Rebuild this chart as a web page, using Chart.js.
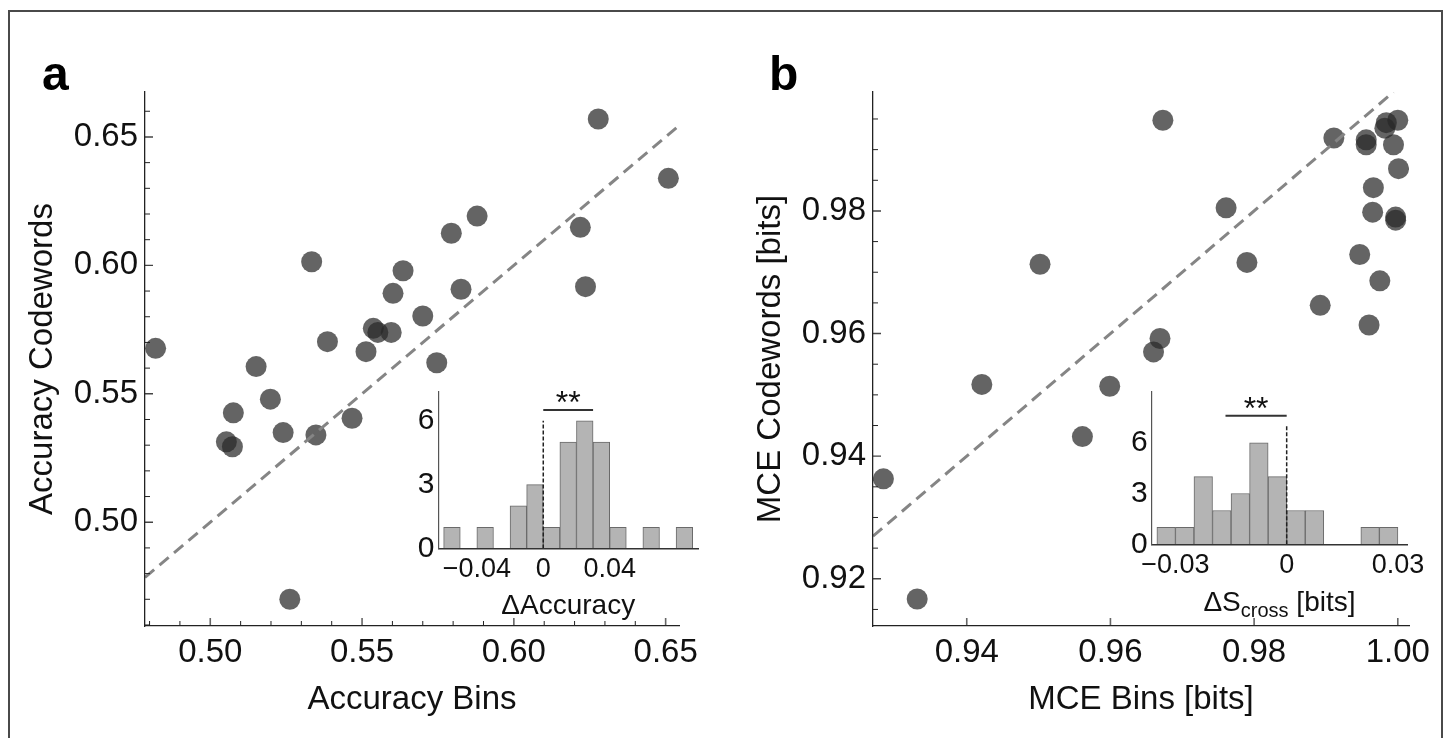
<!DOCTYPE html>
<html>
<head>
<meta charset="utf-8">
<script src="https://cdn.jsdelivr.net/npm/chart.js@4.4.1/dist/chart.umd.min.js"></script>
<style>
  body { margin: 0; background: #fff; }
  #wrap { position: relative; width: 1448px; height: 738px; overflow: hidden; background: #fff; }
  #frame { position: absolute; left: 8px; top: 10px; width: 1431px; height: 760px; border: 2px solid #4a4a4a; }
  canvas { position: absolute; }
</style>
</head>
<body>
<div id="wrap">
  <div id="frame"></div>
  <canvas id="mainA" width="1448" height="738" style="left:0;top:0"></canvas>
  <canvas id="mainB" width="1448" height="738" style="left:0;top:0"></canvas>
  <canvas id="histA" width="330" height="260" style="left:380px;top:370px"></canvas>
  <canvas id="histB" width="340" height="260" style="left:1090px;top:370px"></canvas>
</div>
<script>
// ---- panel a: decoding accuracy, bins vs codewords ----
const accBins = [0.6278, 0.6509, 0.5879, 0.5794, 0.6219, 0.6236, 0.5334, 0.5635, 0.5602,
  0.5826, 0.5700, 0.5537, 0.5552, 0.5596, 0.5386, 0.4820, 0.5513, 0.5746, 0.5151,
  0.5198, 0.5076, 0.5467, 0.5240, 0.5348, 0.5053, 0.5073, 0.5262];
const accCodewords = [0.6570, 0.6339, 0.6192, 0.6125, 0.6148, 0.5917, 0.6014, 0.5979, 0.5891,
  0.5907, 0.5803, 0.5755, 0.5739, 0.5739, 0.5703, 0.5677, 0.5664, 0.5621, 0.5606,
  0.5479, 0.5426, 0.5405, 0.5349, 0.5340, 0.5313, 0.5294, 0.4700];
const accTicks = [0.50, 0.55, 0.60, 0.65];

// histogram of accuracy differences (codewords - bins), lower bin edges
const dAccEdges = [-0.06, -0.05, -0.04, -0.03, -0.02, -0.01, 0, 0.01, 0.02, 0.03, 0.04, 0.05, 0.06, 0.07, 0.08];
const dAccCounts = [1, 0, 1, 0, 2, 3, 1, 5, 6, 5, 1, 0, 1, 0, 1];
const dAccBinWidth = 0.01;
const dAccTicks = [-0.04, 0, 0.04];
const countTicks = [0, 3, 6];

// ---- panel b: minimum cross entropy, bins vs codewords ----
const mceBins = [0.9673, 0.9911, 0.9956, 0.9956, 0.9984, 0.9982, 1.0000, 0.9994, 1.0001,
  0.9966, 0.9761, 0.9965, 0.9997, 0.9997, 0.9502, 0.9790, 0.9947, 0.9975, 0.9892,
  0.9960, 0.9669, 0.9660, 0.9421, 0.9599, 0.9561, 0.9284, 0.9331];
const mceCodewords = [0.9948, 0.9919, 0.9916, 0.9908, 0.9944, 0.9935, 0.9948, 0.9908, 0.9869,
  0.9838, 0.9805, 0.9798, 0.9790, 0.9785, 0.9713, 0.9716, 0.9729, 0.9686, 0.9646,
  0.9614, 0.9592, 0.9570, 0.9517, 0.9514, 0.9432, 0.9363, 0.9167];
const mceXTicks = [0.94, 0.96, 0.98, 1.00];
const mceYTicks = [0.92, 0.94, 0.96, 0.98];

const dSEdges = [-0.035, -0.03, -0.025, -0.02, -0.015, -0.01, -0.005, 0, 0.005, 0.01, 0.015, 0.02, 0.025];
const dSCounts = [1, 1, 4, 2, 3, 6, 4, 2, 2, 0, 0, 1, 1];
const dSBinWidth = 0.005;
const dSTicks = [-0.03, 0, 0.03];

// axis ranges
const axA = { xMin: 0.4785, xMax: 0.6544, yMin: 0.4596, yMax: 0.6675 };
const axB = { xMin: 0.92695, xMax: 1.00156, yMin: 0.9123, yMax: 0.9994 };

const FONT = "'Liberation Sans', Arial, Helvetica, sans-serif";
Chart.defaults.font.family = FONT;
Chart.defaults.color = '#111';
Chart.defaults.animation = false;

function steps(from, to, step) {
  const out = [];
  for (let v = from; v <= to + step / 2; v += step) out.push(Math.round(v * 10000) / 10000);
  return out;
}
const without = (list, skip) => list.filter(v => !skip.some(s => Math.abs(s - v) < 1e-6));

// y = x reference line clipped to the plotted square
function diagonal(ax) {
  const lo = Math.max(ax.xMin, ax.yMin), hi = Math.min(ax.xMax, ax.yMax);
  return [{ x: lo, y: lo }, { x: hi, y: hi }];
}

// inward tick marks (major + minor) and the bold panel letter
const frameTicks = {
  id: 'frameTicks',
  afterDatasetsDraw(chart, args, opts) {
    const { ctx, chartArea: area, scales } = chart;
    ctx.save();
    const mark = (list, len, color, width, horizontal) => {
      ctx.strokeStyle = color;
      ctx.lineWidth = width;
      ctx.beginPath();
      list.forEach(v => {
        if (horizontal) {
          const px = scales.x.getPixelForValue(v);
          ctx.moveTo(px, area.bottom); ctx.lineTo(px, area.bottom - len);
        } else {
          const py = scales.y.getPixelForValue(v);
          ctx.moveTo(area.left, py); ctx.lineTo(area.left + len, py);
        }
      });
      ctx.stroke();
    };
    mark(opts.xMinor, 5, '#222', 1, true);
    mark(opts.xMajor, 8, '#666', 1.6, true);
    mark(opts.yMinor, 5, '#222', 1, false);
    mark(opts.yMajor, 8, '#444', 1.4, false);

    ctx.fillStyle = '#000';
    ctx.font = 'bold 48px ' + FONT;
    ctx.textBaseline = 'alphabetic';
    ctx.fillText(opts.letter, opts.letterX, 90);
    ctx.restore();
  }
};

function mainOptions(ax, xTicks, yTicks, xTitle, yTitle, pad) {
  const tickFont = { size: 33 };
  const fmt = v => v.toFixed(2);
  return {
    responsive: false,
    layout: { padding: pad },
    plugins: { legend: { display: false }, tooltip: { enabled: false } },
    scales: {
      x: {
        type: 'linear', min: ax.xMin, max: ax.xMax,
        afterBuildTicks: s => { s.ticks = xTicks.map(v => ({ value: v })); },
        afterFit: s => { s.height = 100; },
        ticks: { font: tickFont, padding: 7, maxRotation: 0, autoSkip: false, callback: fmt },
        grid: { display: false, drawTicks: false },
        border: { display: true, color: '#222', width: 1.3, z: 1 },
        title: { display: true, text: xTitle, font: { size: 33 }, padding: { top: 0, bottom: 6 } }
      },
      y: {
        type: 'linear', min: ax.yMin, max: ax.yMax,
        afterBuildTicks: s => { s.ticks = yTicks.map(v => ({ value: v })); },
        afterFit: s => { s.width = 130; },
        ticks: { font: tickFont, padding: 7, autoSkip: false, callback: fmt },
        grid: { display: false, drawTicks: false },
        border: { display: true, color: '#222', width: 1.3, z: 1 },
        title: { display: true, text: yTitle, font: { size: 33 }, padding: { top: 8, bottom: 0 } }
      }
    }
  };
}

const pointFill = 'rgba(40,40,40,0.72)';
function scatterData(xs, ys, ax) {
  return {
    datasets: [
      {
        type: 'line', data: diagonal(ax), borderColor: '#858585', borderWidth: 3,
        borderDash: [12, 7], pointRadius: 0, fill: false, order: 0
      },
      {
        data: xs.map((v, i) => ({ x: v, y: ys[i] })), backgroundColor: pointFill,
        borderWidth: 0, pointRadius: 10.5, pointHoverRadius: 10.5, order: 1
      }
    ]
  };
}

// panel a
const optsA = mainOptions(axA, accTicks, accTicks, 'Accuracy Bins', 'Accuracy Codewords',
  { left: 15, right: 769, top: 92, bottom: 12 });
optsA.plugins.frameTicks = {
  xMajor: accTicks, xMinor: without(steps(0.48, 0.65, 0.01), accTicks),
  yMajor: accTicks, yMinor: without(steps(0.46, 0.66, 0.01), accTicks),
  letter: 'a', letterX: 42
};
new Chart(document.getElementById('mainA'), {
  type: 'scatter', data: scatterData(accBins, accCodewords, axA), options: optsA, plugins: [frameTicks]
});

// panel b
const optsB = mainOptions(axB, mceXTicks, mceYTicks, 'MCE Bins [bits]', 'MCE Codewords [bits]',
  { left: 743, right: 39, top: 92, bottom: 12 });
optsB.plugins.frameTicks = {
  xMajor: mceXTicks, xMinor: [],
  yMajor: mceYTicks, yMinor: without(steps(0.915, 0.995, 0.005), mceYTicks),
  letter: 'b', letterX: 769
};
new Chart(document.getElementById('mainB'), {
  type: 'scatter', data: scatterData(mceBins, mceCodewords, axB), options: optsB, plugins: [frameTicks]
});

// inset histograms: zero line, significance bar, x title with optional subscript
const histMarks = {
  id: 'histMarks',
  afterDatasetsDraw(chart, args, opts) {
    const { ctx, chartArea: area, scales: { x, y } } = chart;
    ctx.save();
    const x0 = x.getPixelForValue(0);
    ctx.strokeStyle = '#222';
    ctx.lineWidth = 1.5;
    ctx.setLineDash([4, 2]);
    ctx.beginPath();
    ctx.moveTo(x0, y.getPixelForValue(0));
    ctx.lineTo(x0, y.getPixelForValue(opts.zeroTop));
    ctx.stroke();
    ctx.setLineDash([]);

    const sy = y.getPixelForValue(opts.sig.y);
    const sx1 = x.getPixelForValue(opts.sig.from), sx2 = x.getPixelForValue(opts.sig.to);
    ctx.strokeStyle = '#333';
    ctx.lineWidth = 2;
    ctx.beginPath();
    ctx.moveTo(sx1, sy); ctx.lineTo(sx2, sy);
    ctx.stroke();
    ctx.fillStyle = '#111';
    ctx.font = '32px ' + FONT;
    ctx.textAlign = 'center';
    ctx.textBaseline = 'alphabetic';
    ctx.fillText('**', (sx1 + sx2) / 2, sy + 3);

    // axis title
    const parts = opts.title;
    const fontOf = p => (p.sub ? '20px ' : '28px ') + FONT;
    let total = 0;
    parts.forEach(p => { ctx.font = fontOf(p); total += ctx.measureText(p.t).width; });
    let tx = (area.left + area.right) / 2 - total / 2;
    const ty = area.bottom + opts.titleGap;
    ctx.textAlign = 'left';
    parts.forEach(p => {
      ctx.font = fontOf(p);
      ctx.fillText(p.t, tx, ty + (p.sub ? 6 : 0));
      tx += ctx.measureText(p.t).width;
    });
    ctx.restore();
  }
};

function histChart(id, edges, counts, width, xTicks, ax, pad, axisH, yAxisW, marks) {
  const minus = v => v === 0 ? '0' : (v < 0 ? '\u2212' : '') + Math.abs(v).toFixed(2);
  return new Chart(document.getElementById(id), {
    type: 'bar',
    data: {
      datasets: [{
        data: edges.map((e, i) => ({ x: e + width / 2, y: counts[i] })),
        backgroundColor: '#b4b4b4', borderColor: '#6a6a6a', borderWidth: 1,
        barPercentage: 1, categoryPercentage: 1
      }]
    },
    options: {
      responsive: false,
      layout: { padding: pad },
      plugins: { legend: { display: false }, tooltip: { enabled: false }, histMarks: marks },
      scales: {
        x: {
          type: 'linear', min: ax.xMin, max: ax.xMax, offset: false,
          afterBuildTicks: s => { s.ticks = xTicks.map(v => ({ value: v })); },
          afterFit: s => { s.height = axisH; },
          ticks: { font: { size: 27 }, padding: 5, maxRotation: 0, autoSkip: false, callback: minus },
          grid: { display: false, drawTicks: false },
          border: { display: true, color: '#333', width: 1.6, z: 1 }
        },
        y: {
          type: 'linear', min: 0, max: ax.yMax,
          afterBuildTicks: s => { s.ticks = countTicks.map(v => ({ value: v })); },
          afterFit: s => { s.width = yAxisW; },
          ticks: { font: { size: 30 }, padding: 4, autoSkip: false, callback: v => String(v) },
          grid: { display: false, drawTicks: false },
          border: { display: true, color: '#555', width: 1.2, z: 1 }
        }
      }
    },
    plugins: [histMarks]
  });
}

histChart('histA', dAccEdges, dAccCounts, dAccBinWidth, dAccTicks,
  { xMin: -0.0631, xMax: 0.0932, yMax: 7.35 },
  { left: 0, right: 12, top: 19, bottom: 0 }, 81.5, 58.5,
  { zeroTop: 6, sig: { from: 0, to: 0.03, y: 6.5 }, titleGap: 65, title: [{ t: '\u0394Accuracy' }] });

histChart('histB', dSEdges, dSCounts, dSBinWidth, dSTicks,
  { xMin: -0.0364, xMax: 0.0325, yMax: 9.0 },
  { left: 0, right: 22, top: 19, bottom: 0 }, 85.7, 61.7,
  { zeroTop: 7, sig: { from: -0.0165, to: 0, y: 7.6 }, titleGap: 67,
    title: [{ t: '\u0394S' }, { t: 'cross', sub: true }, { t: ' [bits]' }] });
</script>
</body>
</html>
